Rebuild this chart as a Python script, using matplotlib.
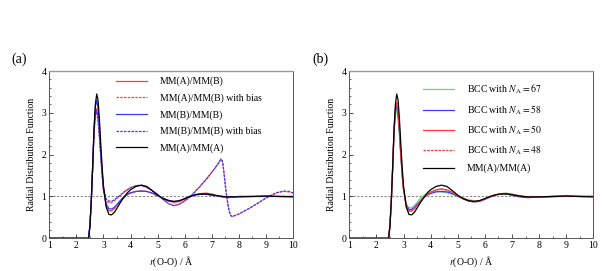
import matplotlib
matplotlib.use("Agg")
import matplotlib.pyplot as plt
from matplotlib.ticker import MultipleLocator

plt.rcParams['font.family'] = ['Liberation Serif', 'DejaVu Serif']
plt.rcParams['mathtext.fontset'] = 'stix'

# ---------------- data ----------------
r = [1.0, 2.4, 2.45, 2.5, 2.55, 2.6, 2.65, 2.7, 2.75, 2.8, 2.85, 2.9, 2.95, 3.0,
     3.1, 3.2, 3.3, 3.4, 3.5, 3.6, 3.7, 3.8, 3.9, 4.0, 4.2, 4.4, 4.6, 4.8, 5.0,
     5.2, 5.4, 5.6, 5.8, 6.0, 6.2, 6.4, 6.6, 6.8, 7.0, 7.2, 7.4, 7.6, 7.8, 8.0,
     8.5, 9.0, 9.5, 10.0]

g_AA = [0, 0, 0.0, 0.3, 0.9, 1.7, 2.6, 3.2, 3.45, 3.3, 2.85, 2.25, 1.7, 1.25,
        0.75, 0.57, 0.56, 0.62, 0.72, 0.83, 0.93, 1.02, 1.10, 1.16, 1.24, 1.27, 1.24, 1.14, 1.03,
        0.95, 0.90, 0.88, 0.90, 0.95, 1.00, 1.04, 1.06, 1.06, 1.04, 1.02, 1.00, 0.99, 0.99, 0.99,
        1.00, 1.01, 1.00, 0.99]

g_AB = [0, 0, 0.0, 0.3, 0.9, 1.7, 2.5, 3.0, 3.1, 2.9, 2.5, 2.0, 1.55, 1.15,
        0.78, 0.66, 0.66, 0.71, 0.79, 0.87, 0.94, 1.00, 1.05, 1.08, 1.12, 1.13, 1.12, 1.08, 1.02,
        0.95, 0.89, 0.86, 0.88, 0.94, 1.01, 1.05, 1.07, 1.08, 1.06, 1.02, 0.98, 0.97, 0.99, 1.00,
        1.00, 1.01, 1.00, 1.00]

g_BB = [0, 0, 0.0, 0.3, 0.9, 1.7, 2.6, 3.15, 3.3, 3.1, 2.65, 2.1, 1.6, 1.2,
        0.82, 0.71, 0.70, 0.74, 0.81, 0.89, 0.96, 1.01, 1.06, 1.09, 1.12, 1.13, 1.12, 1.08, 1.02,
        0.96, 0.91, 0.88, 0.89, 0.94, 1.00, 1.04, 1.05, 1.05, 1.03, 1.01, 1.00, 0.99, 0.99, 1.00,
        1.00, 1.00, 1.00, 1.00]

r_bias = [1.0, 2.4, 2.45, 2.5, 2.55, 2.6, 2.65, 2.7, 2.75, 2.8, 2.85, 2.9, 2.95, 3.0,
          3.1, 3.2, 3.3, 3.4, 3.6, 3.8, 4.0, 4.2, 4.4, 4.6, 4.8, 5.0, 5.2, 5.4, 5.6,
          5.8, 6.0, 6.2, 6.5, 6.8, 7.05, 7.25, 7.34, 7.4, 7.45, 7.5, 7.55, 7.6, 7.65,
          7.7, 7.75, 7.8, 8.0, 8.4, 8.8, 9.1, 9.4, 9.65, 9.85, 10.0]

g_AB_bias = [0, 0, 0.0, 0.3, 0.9, 1.7, 2.5, 2.95, 3.0, 2.8, 2.4, 1.95, 1.5, 1.15,
             0.9, 0.85, 0.86, 0.90, 1.01, 1.12, 1.21, 1.26, 1.26, 1.21, 1.14, 1.05, 0.93, 0.83, 0.78,
             0.82, 0.90, 1.00, 1.20, 1.42, 1.62, 1.80, 1.89, 1.82, 1.56, 1.26, 1.01, 0.79, 0.63,
             0.55, 0.52, 0.53, 0.58, 0.72, 0.88, 1.00, 1.09, 1.12, 1.11, 1.08]

g_BB_bias = [0, 0, 0.0, 0.3, 0.9, 1.7, 2.55, 3.0, 3.05, 2.85, 2.45, 2.0, 1.55, 1.2,
             0.94, 0.89, 0.89, 0.92, 1.02, 1.13, 1.21, 1.26, 1.27, 1.22, 1.14, 1.05, 0.93, 0.83, 0.78,
             0.81, 0.89, 0.99, 1.19, 1.41, 1.62, 1.80, 1.90, 1.83, 1.57, 1.27, 1.02, 0.80, 0.63,
             0.55, 0.52, 0.53, 0.58, 0.72, 0.88, 1.00, 1.09, 1.13, 1.12, 1.09]

g_N67 = [0, 0, 0.0, 0.3, 0.9, 1.7, 2.5, 3.0, 3.05, 2.85, 2.45, 1.95, 1.5, 1.15,
         0.82, 0.73, 0.73, 0.78, 0.86, 0.94, 1.00, 1.05, 1.08, 1.10, 1.12, 1.11, 1.09, 1.05, 1.01,
         0.96, 0.92, 0.90, 0.90, 0.94, 0.99, 1.04, 1.07, 1.08, 1.06, 1.03, 1.01, 0.99, 0.98, 0.98,
         0.99, 1.00, 1.00, 1.00]

g_N58 = [0, 0, 0.0, 0.3, 0.9, 1.7, 2.55, 3.05, 3.15, 2.95, 2.55, 2.0, 1.55, 1.18,
         0.8, 0.69, 0.69, 0.74, 0.81, 0.88, 0.95, 1.00, 1.04, 1.07, 1.11, 1.12, 1.11, 1.07, 1.01,
         0.94, 0.89, 0.87, 0.88, 0.93, 0.99, 1.04, 1.06, 1.06, 1.03, 1.00, 0.98, 0.97, 0.98, 0.99,
         1.00, 1.01, 1.00, 1.00]

g_N50 = [0, 0, 0.0, 0.3, 0.9, 1.7, 2.55, 3.1, 3.25, 3.05, 2.6, 2.05, 1.55, 1.18,
         0.77, 0.65, 0.65, 0.70, 0.78, 0.86, 0.94, 1.00, 1.06, 1.10, 1.16, 1.18, 1.16, 1.10, 1.02,
         0.95, 0.90, 0.88, 0.89, 0.94, 1.00, 1.04, 1.06, 1.07, 1.05, 1.02, 1.00, 0.99, 0.99, 0.99,
         1.00, 1.01, 1.00, 1.00]

g_N48 = [0, 0, 0.0, 0.3, 0.9, 1.7, 2.55, 3.1, 3.22, 3.02, 2.6, 2.05, 1.55, 1.18,
         0.77, 0.66, 0.66, 0.71, 0.79, 0.87, 0.94, 1.00, 1.06, 1.10, 1.15, 1.17, 1.15, 1.09, 1.02,
         0.95, 0.90, 0.88, 0.89, 0.94, 1.00, 1.04, 1.06, 1.07, 1.05, 1.02, 1.00, 0.99, 0.99, 0.99,
         1.00, 1.01, 1.00, 1.00]

labels_a = ["MM(A)/MM(B)", "MM(A)/MM(B) with bias", "MM(B)/MM(B)",
            "MM(B)/MM(B) with bias", "MM(A)/MM(A)"]
labels_b = [r"BCC with $N_\mathrm{A}=67$", r"BCC with $N_\mathrm{A}=58$",
            r"BCC with $N_\mathrm{A}=50$", r"BCC with $N_\mathrm{A}=48$", "MM(A)/MM(A)"]

RED = '#ff3b3b'
BLUE = '#3b3bff'
GREEN = '#6fd36f'
DASH = (0, (2.0, 1.0))

fig = plt.figure(figsize=(6.06, 2.71), dpi=100)
axa = fig.add_axes([0.0814, 0.1207, 0.4021, 0.6173])
axb = fig.add_axes([0.5764, 0.1207, 0.4026, 0.6173])


def style(ax):
    ax.set_xlim(1, 10)
    ax.set_ylim(0, 4)
    ax.xaxis.set_major_locator(MultipleLocator(1))
    ax.xaxis.set_minor_locator(MultipleLocator(0.5))
    ax.yaxis.set_major_locator(MultipleLocator(1))
    ax.yaxis.set_minor_locator(MultipleLocator(0.2))
    ax.tick_params(which='both', direction='in', top=False, right=False,
                   labelsize=7, pad=2, color='#333333')
    ax.tick_params(which='major', length=3, width=0.6)
    ax.tick_params(which='minor', length=1.5, width=0.5)
    for s in ax.spines.values():
        s.set_color('#555555')
        s.set_linewidth(0.7)
    ax.spines['top'].set_color('#999999')
    ax.spines['top'].set_linewidth(1.0)
    ax.axhline(1.0, color='#888888', lw=0.8, ls=(0, (2, 1.5)), zorder=1)
    ax.set_xlabel(r"$r$(O-O) / Å", fontsize=7, labelpad=3)
    ax.set_ylabel("Radial Distribution Function", fontsize=7, labelpad=4)


style(axa)
style(axb)

lw = 0.9
axa.plot(r, g_AB, color=RED, lw=lw, label=labels_a[0], zorder=3)
axa.plot(r_bias, g_AB_bias, color=RED, lw=lw, ls=DASH, label=labels_a[1], zorder=3)
axa.plot(r, g_BB, color=BLUE, lw=lw, label=labels_a[2], zorder=3)
axa.plot(r_bias, g_BB_bias, color=BLUE, lw=lw, ls=DASH, label=labels_a[3], zorder=4)
axa.plot(r, g_AA, color='black', lw=lw, label=labels_a[4], zorder=5)

axb.plot(r, g_N67, color=GREEN, lw=lw, label=labels_b[0], zorder=3)
axb.plot(r, g_N58, color=BLUE, lw=lw, label=labels_b[1], zorder=3)
axb.plot(r, g_N50, color=RED, lw=lw, label=labels_b[2], zorder=3)
axb.plot(r, g_N48, color=RED, lw=lw, ls=DASH, label=labels_b[3], zorder=3)
axb.plot(r, g_AA, color='black', lw=lw, label=labels_b[4], zorder=5)

leg_kw = dict(frameon=False, fontsize=7, handlelength=3.2, handletextpad=1.3,
              labelspacing=0.72, borderpad=0, borderaxespad=0, loc='upper left')
axa.legend(bbox_to_anchor=(0.273, 0.965), **leg_kw)
axb.legend(bbox_to_anchor=(0.303, 0.93), **leg_kw)

fig.text(19 / 606, 1 - 59 / 271, "(a)", fontsize=10, ha='center', va='center')
fig.text(320 / 606, 1 - 59 / 271, "(b)", fontsize=10, ha='center', va='center')

fig.savefig("out.png", dpi=100)
